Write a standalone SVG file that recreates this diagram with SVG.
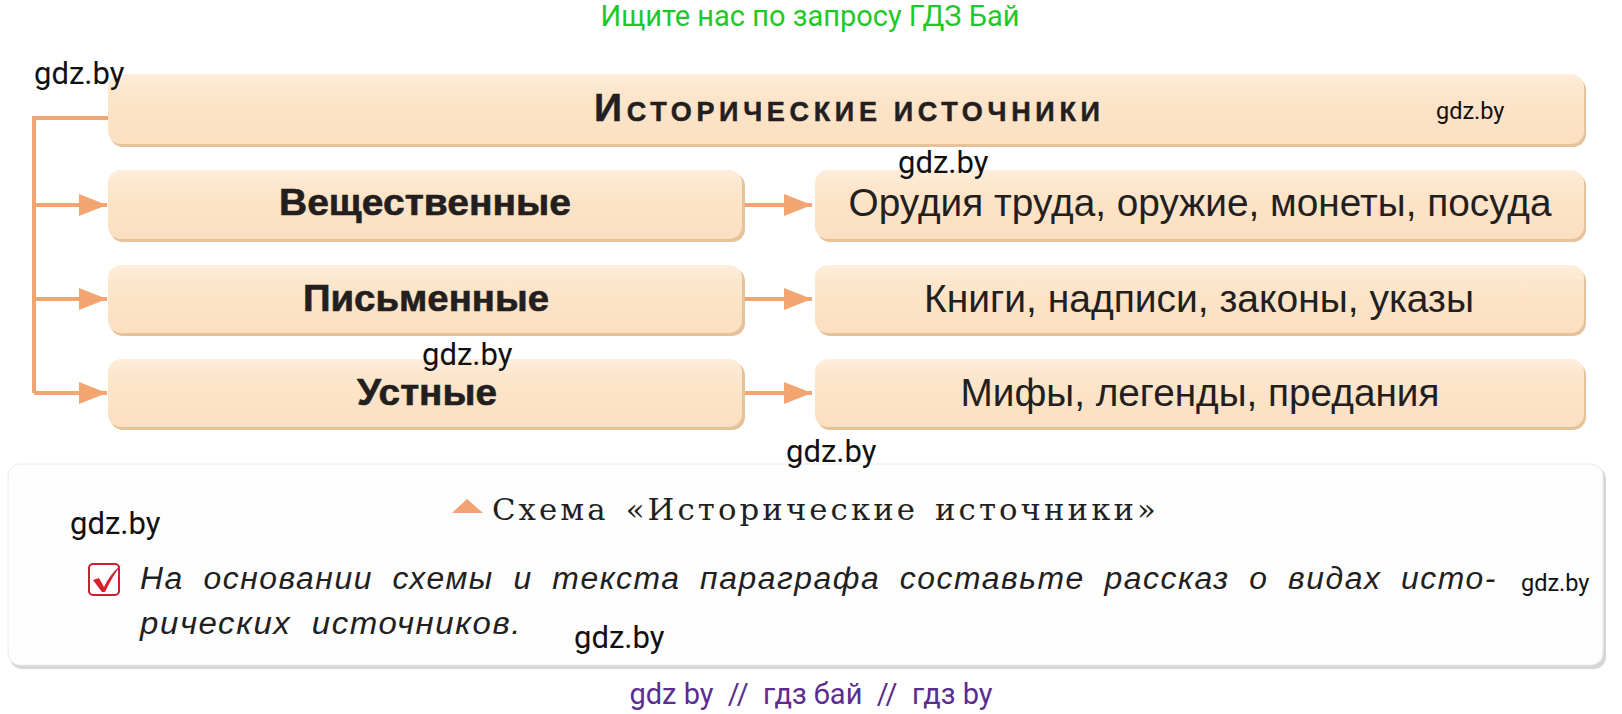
<svg xmlns="http://www.w3.org/2000/svg" width="1622" height="714" viewBox="0 0 1622 714">
<style>
.bx{fill:url(#g)}
.sh{fill:#e6c29b}
.lbl{font-family:"Liberation Sans",Arial,sans-serif;fill:#231f20}
.b{font-weight:bold;font-size:37px;stroke:#231f20;stroke-width:0.6px}
.r{font-size:38px}
.wm{font-family:Roboto,"Liberation Sans",sans-serif;fill:#111;font-size:31px}
.wms{font-family:Roboto,"Liberation Sans",sans-serif;fill:#111;font-size:23.5px}
.con{stroke:#f3a571;stroke-width:4;fill:none}
.it{font-family:"Liberation Sans",Arial,sans-serif;font-style:italic;font-size:31px;fill:#231f20;letter-spacing:1.5px;word-spacing:9px}
</style>
<defs>
<linearGradient id="g" x1="0" y1="0" x2="0" y2="1">
<stop offset="0" stop-color="#fdeedc"/>
<stop offset="0.25" stop-color="#fde6cc"/>
<stop offset="1" stop-color="#fbdfc1"/>
</linearGradient>
<marker id="ah" markerUnits="userSpaceOnUse" markerWidth="28" markerHeight="22" refX="28" refY="11" orient="auto">
<path d="M0,0 L28,11 L0,22 Z" fill="#f3a571"/>
</marker>
</defs>
<rect width="1622" height="714" fill="#fff"/>
<text x="810" y="26" text-anchor="middle" font-family="Roboto,'Liberation Sans',sans-serif" font-size="29" fill="#1fc82a">Ищите нас по запросу ГДЗ Бай</text>

<g id="connectors">
<path class="con" d="M109,118 H34 V393"/>
<path class="con" d="M34,205 H107" marker-end="url(#ah)"/>
<path class="con" d="M34,299 H107" marker-end="url(#ah)"/>
<path class="con" d="M34,393 H107" marker-end="url(#ah)"/>
<path class="con" d="M743,205 H812" marker-end="url(#ah)"/>
<path class="con" d="M743,299 H812" marker-end="url(#ah)"/>
<path class="con" d="M743,393 H812" marker-end="url(#ah)"/>
</g>

<g id="title">
<rect class="sh" x="110" y="77" width="1476" height="70" rx="13"/>
<rect class="bx" x="108" y="74" width="1476" height="70" rx="13"/>
<text class="lbl" x="594" y="121" font-weight="bold" stroke="#231f20" stroke-width="0.5" textLength="506" lengthAdjust="spacing"><tspan font-size="39">И</tspan><tspan font-size="27">СТОРИЧЕСКИЕ ИСТОЧНИКИ</tspan></text>
</g>

<g id="n-material">
<rect class="sh" x="110" y="173" width="635" height="69" rx="13"/>
<rect class="bx" x="108" y="170" width="634" height="69" rx="13"/>
<text class="lbl b" x="425" y="215" text-anchor="middle" textLength="292" lengthAdjust="spacingAndGlyphs">Вещественные</text>
</g>
<g id="n-material-ex">
<rect class="sh" x="817" y="173" width="769" height="69" rx="13"/>
<rect class="bx" x="815" y="170" width="769" height="69" rx="13"/>
<text class="lbl r" x="1200" y="216" text-anchor="middle" textLength="703" lengthAdjust="spacingAndGlyphs">Орудия труда, оружие, монеты, посуда</text>
</g>

<g id="n-written">
<rect class="sh" x="110" y="268" width="635" height="68" rx="13"/>
<rect class="bx" x="108" y="265" width="634" height="68" rx="13"/>
<text class="lbl b" x="426" y="311" text-anchor="middle" textLength="246" lengthAdjust="spacingAndGlyphs">Письменные</text>
</g>
<g id="n-written-ex">
<rect class="sh" x="817" y="268" width="769" height="68" rx="13"/>
<rect class="bx" x="815" y="265" width="769" height="68" rx="13"/>
<text class="lbl r" x="1199" y="312" text-anchor="middle" textLength="550" lengthAdjust="spacingAndGlyphs">Книги, надписи, законы, указы</text>
</g>

<g id="n-oral">
<rect class="sh" x="110" y="362" width="635" height="68" rx="13"/>
<rect class="bx" x="108" y="359" width="634" height="68" rx="13"/>
<text class="lbl b" x="427" y="405" text-anchor="middle" textLength="140" lengthAdjust="spacingAndGlyphs">Устные</text>
</g>
<g id="n-oral-ex">
<rect class="sh" x="817" y="362" width="769" height="68" rx="13"/>
<rect class="bx" x="815" y="359" width="769" height="68" rx="13"/>
<text class="lbl r" x="1200" y="406" text-anchor="middle" textLength="479" lengthAdjust="spacingAndGlyphs">Мифы, легенды, предания</text>
</g>

<g id="panel">
<rect x="10" y="467" width="1596" height="202" rx="12" fill="#d6d6d6"/>
<rect x="8" y="464" width="1595" height="201" rx="12" fill="#fdfdfd" stroke="#ececec" stroke-width="1"/>
<path d="M452,513 L467,499 L483,513 Z" fill="#f2a273"/>
<text x="492" y="520" font-family="'DejaVu Serif','Liberation Serif',serif" font-size="30" fill="#231f20" letter-spacing="3" word-spacing="4" textLength="667" lengthAdjust="spacingAndGlyphs">Схема «Исторические источники»</text>
<rect x="89" y="564" width="30" height="31" rx="4" fill="#fff" stroke="#c4232f" stroke-width="2"/>
<path d="M93,580 L99,578 L104,587 Q110,574 121,565 Q112,577 105,592 L102,592 Z" fill="#d81f2a"/>
<text class="it" x="140" y="589" textLength="1357" lengthAdjust="spacingAndGlyphs">На основании схемы и текста параграфа составьте рассказ о видах исто-</text>
<text class="it" x="140" y="634" textLength="382" lengthAdjust="spacingAndGlyphs">рических источников.</text>
</g>

<g id="watermarks">
<text class="wm" x="34" y="84">gdz.by</text>
<text class="wms" x="1436" y="119">gdz.by</text>
<text class="wm" x="898" y="173">gdz.by</text>
<text class="wm" x="422" y="365">gdz.by</text>
<text class="wm" x="786" y="462">gdz.by</text>
<text class="wm" x="70" y="534">gdz.by</text>
<text class="wms" x="1521" y="591">gdz.by</text>
<text class="wm" x="574" y="648">gdz.by</text>
</g>
<text x="811" y="704" text-anchor="middle" font-family="Roboto,'Liberation Sans',sans-serif" font-size="29" fill="#5b2d8e" xml:space="preserve">gdz by  //  гдз бай  //  гдз by</text>
</svg>
